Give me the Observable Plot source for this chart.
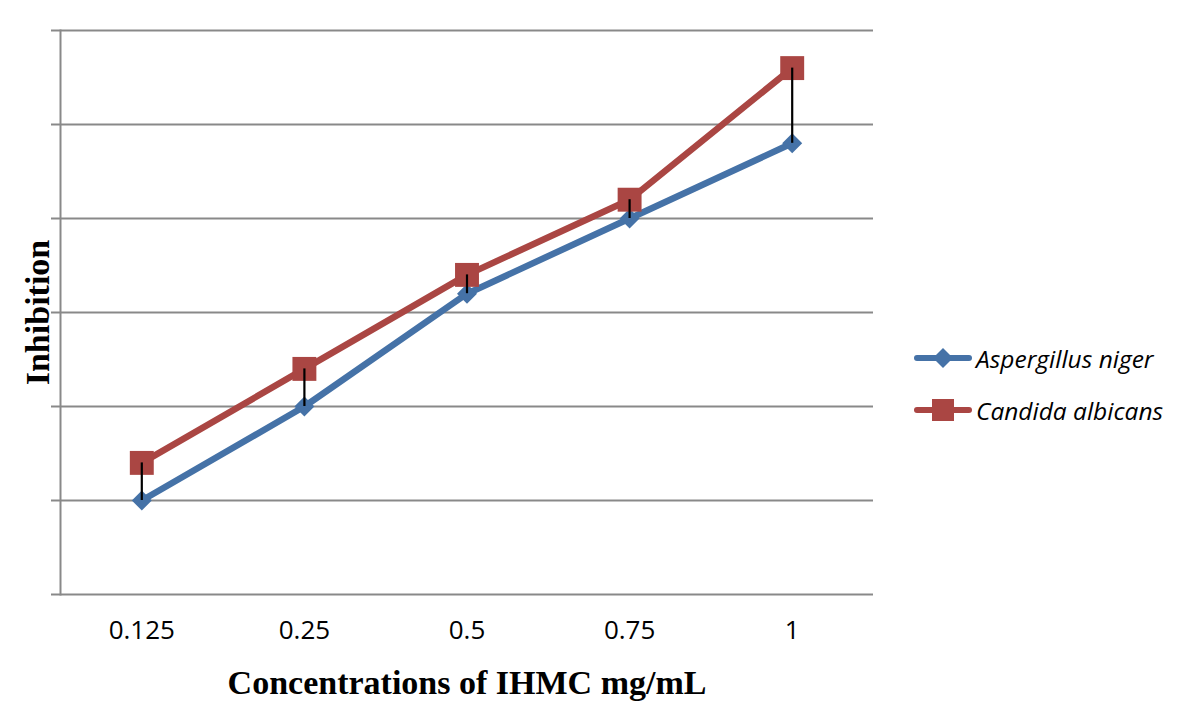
<!DOCTYPE html>
<html>
<head>
<meta charset="utf-8">
<script src="https://cdn.jsdelivr.net/npm/d3@7"></script>
<script src="https://cdn.jsdelivr.net/npm/@observablehq/plot@0.6"></script>
<style>
  html, body { margin: 0; padding: 0; background: #fff; }
  #wrap { position: relative; width: 1200px; height: 727px; }
  #legend { position: absolute; left: 914px; top: 332px; font-family: "Open Sans", sans-serif; font-style: italic; font-size: 24.5px; color: #000; }
  .item { display: flex; align-items: center; height: 52px; }
  .item svg { margin-right: 4px; }
</style>
</head>
<body>
<div id="wrap">
  <div id="chart"></div>
  <div id="legend"></div>
</div>
<script>
const concentrations = ["0.125", "0.25", "0.5", "0.75", "1"];
const aspergillus = [1.0, 2.0, 3.2, 4.0, 4.8];
const candida = [1.4, 2.4, 3.4, 4.2, 5.6];
const yTicks = [0, 1, 2, 3, 4, 5, 6];
const seriesNames = ["Aspergillus niger", "Candida albicans"];
const seriesColors = ["#4572A7", "#AA4643"];

const rows = concentrations.map((c, i) => ({c, a: aspergillus[i], b: candida[i]}));
const grid = "#898989";

const chart = Plot.plot({
  width: 880,
  height: 727,
  marginLeft: 60,
  marginRight: 7,
  marginTop: 30,
  marginBottom: 133,
  style: {background: "#fff", fontSize: "26px", fontFamily: "Open Sans", color: "#000"},
  x: {type: "point", domain: concentrations, padding: 0.5, round: false},
  y: {domain: [0, 6]},
  marks: [
    Plot.ruleY(yTicks, {stroke: grid, strokeWidth: 2}),
    Plot.axisY({ticks: yTicks, tickSize: 9, tickFormat: () => "", stroke: grid, strokeWidth: 2, label: null}),
    Plot.frame({anchor: "left", stroke: grid, strokeWidth: 2}),
    Plot.axisX({tickSize: 0, tickPadding: 26, label: null, fill: "#000"}),
    Plot.line(rows, {x: "c", y: "a", stroke: seriesColors[0], strokeWidth: 6.5}),
    Plot.line(rows, {x: "c", y: "b", stroke: seriesColors[1], strokeWidth: 6.5}),
    Plot.dot(rows, {x: "c", y: "a", symbol: "diamond2", r: 9, fill: seriesColors[0]}),
    Plot.dot(rows, {x: "c", y: "b", symbol: "square", r: 13.5, fill: seriesColors[1]}),
    Plot.ruleX(rows, {x: "c", y1: "a", y2: "b", stroke: "#000", strokeWidth: 2.2}),
    Plot.text(["Concentrations of IHMC mg/mL"], {frameAnchor: "bottom", lineAnchor: "middle", dy: 89, fontSize: 34, fontWeight: "bold", fontFamily: "Liberation Serif", fill: "#000"}),
    Plot.text(["Inhibition"], {frameAnchor: "left", textAnchor: "middle", rotate: -90, lineAnchor: "middle", dx: -22, fontSize: 34, fontWeight: "bold", fontFamily: "Liberation Serif", fill: "#000"})
  ]
});
document.getElementById("chart").appendChild(chart);

const legend = document.getElementById("legend");
seriesNames.forEach((name, i) => {
  const item = document.createElement("div");
  item.className = "item";
  const marker = i === 0
    ? `<path d="M29,-10 L39,0 L29,10 L19,0 Z" fill="${seriesColors[i]}" transform="translate(0,13)"/>`
    : `<rect x="18" y="2" width="22" height="22" fill="${seriesColors[i]}"/>`;
  item.innerHTML = `<svg width="58" height="26"><line x1="3" y1="13" x2="55" y2="13" stroke="${seriesColors[i]}" stroke-width="6" stroke-linecap="round"/>${marker}</svg><span>${name}</span>`;
  legend.appendChild(item);
});
</script>
</body>
</html>
